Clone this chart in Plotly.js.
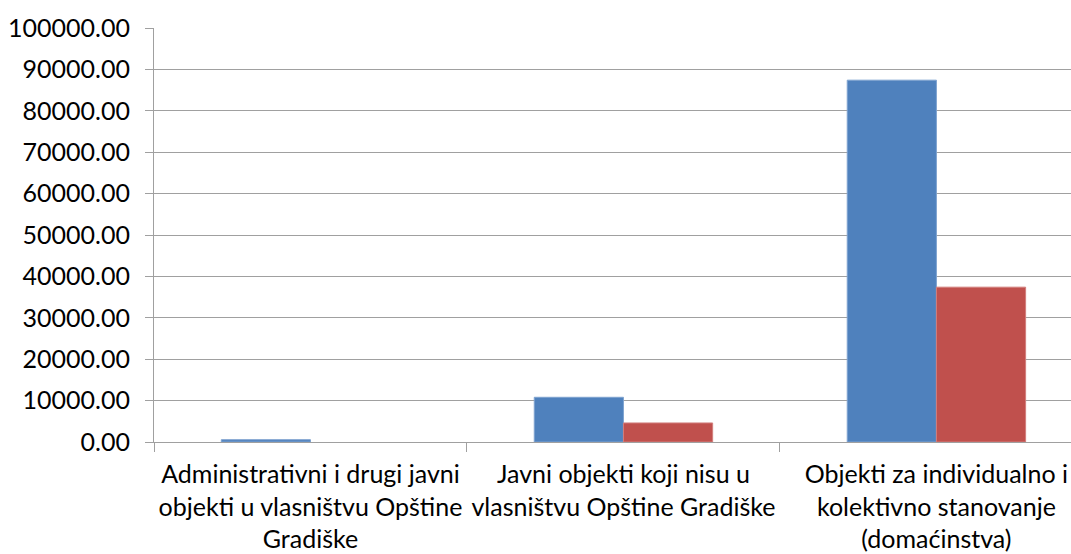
<!DOCTYPE html>
<html>
<head>
<meta charset="utf-8">
<script src="https://cdn.plot.ly/plotly-3.0.1.min.js"></script>
<style>html,body{margin:0;padding:0;background:#fff;}#chart{width:1071px;height:554px;}</style>
</head>
<body>
<div id="chart"></div>
<script>
var categories = [
  "Administrativni i drugi javni<br>objekti u vlasništvu Opštine<br>Gradiške",
  "Javni objekti koji nisu u<br>vlasništvu Opštine Gradiške",
  "Objekti za individualno i<br>kolektivno stanovanje<br>(domaćinstva)"
];
var seriesBlue = [560, 10800, 87400];
var seriesRed = [null, 4600, 37400];
var yTickValues = [0, 10000, 20000, 30000, 40000, 50000, 60000, 70000, 80000, 90000, 100000];

var font = {family: "Lato, 'Open Sans', sans-serif", size: 25, color: "#000"};

var traces = [
  {type: "bar", x: categories, y: seriesBlue, name: "Serija 1",
   marker: {color: "#4F81BD", line: {color: "#7fa3d0", width: 1}}},
  {type: "bar", x: categories, y: seriesRed, name: "Serija 2",
   marker: {color: "#C0504D", line: {color: "#d27e7c", width: 1}}}
];

var layout = {
  width: 1071, height: 554,
  margin: {l: 154, r: 0, t: 28, b: 112, pad: 0},
  paper_bgcolor: "#ffffff", plot_bgcolor: "#ffffff",
  showlegend: false,
  barmode: "group",
  bargap: 0.43, bargroupgap: 0,
  font: font,
  xaxis: {
    type: "category",
    range: [-0.5, 2.43],
    showline: true, linecolor: "#a0a0a0", linewidth: 1,
    ticks: "outside", tickson: "boundaries", ticklen: 9, tickcolor: "#a0a0a0",
    showgrid: false, zeroline: false,
    tickangle: 0,
    ticklabelstandoff: 10,
    tickfont: font, fixedrange: true
  },
  yaxis: {
    range: [0, 100000],
    tickmode: "array", tickvals: yTickValues,
    ticktext: yTickValues.map(function(v){return v.toFixed(2);}),
    showline: true, linecolor: "#a0a0a0", linewidth: 1,
    ticks: "outside", ticklen: 8, tickcolor: "#a0a0a0",
    showgrid: true, gridcolor: "#a0a0a0", gridwidth: 1,
    zeroline: false,
    ticklabelstandoff: 10,
    tickfont: font, fixedrange: true
  }
};

Plotly.newPlot("chart", traces, layout, {displayModeBar: false, staticPlot: true});
</script>
</body>
</html>
